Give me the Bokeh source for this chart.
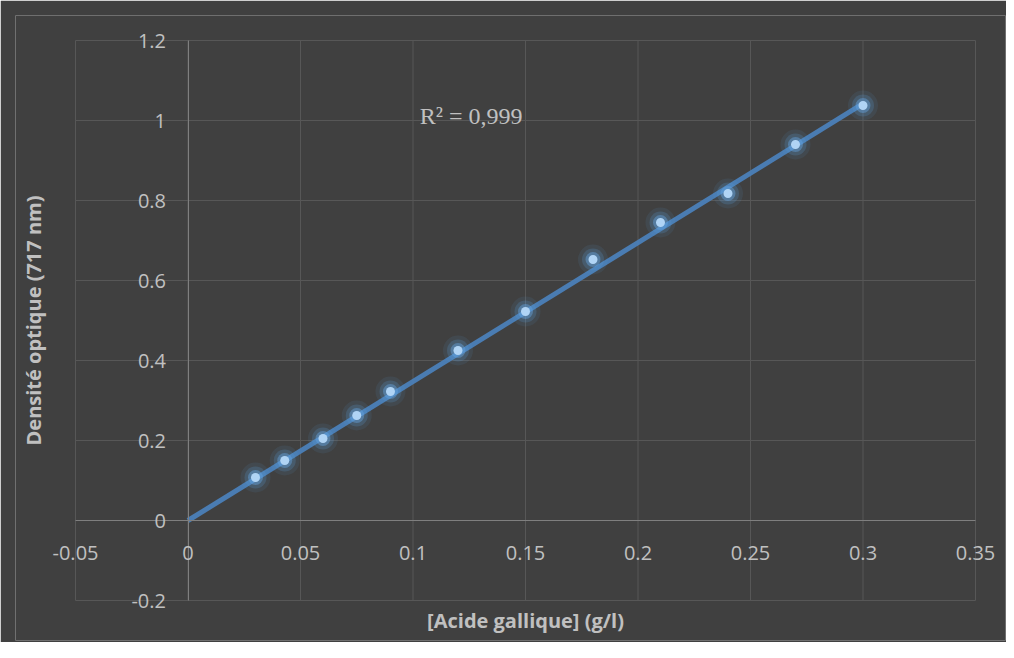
import math
from bokeh.plotting import figure
from bokeh.models import Range1d, FixedTicker, Label, LabelSet, ColumnDataSource
from bokeh.core.properties import value
from bokeh.embed import file_html
from bokeh.resources import INLINE

# ---- data ----
conc = [0.03, 0.043, 0.06, 0.075, 0.09, 0.12, 0.15, 0.18, 0.21, 0.24, 0.27, 0.30]
od = [0.1075, 0.15, 0.205, 0.2625, 0.3225, 0.425, 0.5225, 0.6525, 0.745, 0.8175, 0.94, 1.0375]
trend_x = [0.0, 0.30]
trend_y = [0.0, 1.042]
x_ticks = [-0.05, 0, 0.05, 0.1, 0.15, 0.2, 0.25, 0.3, 0.35]
x_tick_labels = ["-0.05", "0", "0.05", "0.1", "0.15", "0.2", "0.25", "0.3", "0.35"]
y_ticks = [-0.2, 0, 0.2, 0.4, 0.6, 0.8, 1.0, 1.2]
y_tick_labels = ["-0.2", "0", "0.2", "0.4", "0.6", "0.8", "1", "1.2"]
r2_text = "R² = 0,999"
x_title = "[Acide gallique] (g/l)"
y_title = "Densité optique (717 nm)"

BG = "#404040"
GRID = "#575757"
AXIS = "#7f7f7f"
TXT = "#c0c0c0"
FONT = "Open Sans"

# frame is larger than the gridded area so that the end labels and titles fit
xmin, xmax = x_ticks[0], x_ticks[-1]
ymin, ymax = y_ticks[0], y_ticks[-1]
px_per_x = 900 / (xmax - xmin)
px_per_y = 560 / (ymax - ymin)
x_range = Range1d(xmin - 60 / px_per_x, xmax + 30 / px_per_x)
y_range = Range1d(ymin - 40 / px_per_y, ymax + 25 / px_per_y)

p = figure(width=1006, height=642, title=None,
           x_range=x_range, y_range=y_range,
           output_backend="svg", toolbar_location=None,
           min_border_left=15, min_border_right=1,
           min_border_top=15, min_border_bottom=2,
           background_fill_color=BG, border_fill_color=BG,
           outline_line_color=None)
p.grid.visible = False

# gridlines restricted to the plotted area
nx, ny = len(x_ticks), len(y_ticks)
p.segment(x0=x_ticks, y0=[ymin] * nx, x1=x_ticks, y1=[ymax] * nx,
          line_color=GRID, line_width=1)
p.segment(x0=[xmin] * ny, y0=y_ticks, x1=[xmax] * ny, y1=y_ticks,
          line_color=GRID, line_width=1)

p.xaxis.ticker = FixedTicker(ticks=x_ticks)
p.yaxis.ticker = FixedTicker(ticks=y_ticks)
p.xaxis.bounds = (xmin, xmax)
p.yaxis.bounds = (ymin, ymax)
for ax in (p.xaxis[0], p.yaxis[0]):
    ax.fixed_location = 0
    ax.axis_line_color = AXIS
    ax.axis_line_width = 1
    ax.major_tick_line_color = None
    ax.minor_tick_line_color = None
    ax.major_tick_out = 0
    ax.major_tick_in = 0
    ax.major_label_text_font_size = "0px"
    ax.major_label_text_alpha = 0

# tick labels next to the axes that cross at zero
xs = ColumnDataSource(dict(x=x_ticks, y=[0] * nx, t=x_tick_labels))
ys = ColumnDataSource(dict(x=[0] * ny, y=y_ticks, t=y_tick_labels))
p.add_layout(LabelSet(x="x", y="y", text="t", source=xs, y_offset=-32,
                      text_align="center", text_baseline="middle",
                      text_font=value(FONT), text_font_size=value("20px"),
                      text_color=TXT))
p.add_layout(LabelSet(x="x", y="y", text="t", source=ys, x_offset=-22,
                      text_align="right", text_baseline="middle",
                      text_font=value(FONT), text_font_size=value("20px"),
                      text_color=TXT))

# trend line
p.line(trend_x, trend_y, line_color="#4b7fb8", line_width=5, line_alpha=0.95)

# marker glow + markers
p.scatter(conc, od, size=30, fill_color="#5b9bd5", fill_alpha=0.10, line_color=None)
p.scatter(conc, od, size=22, fill_color="#5b9bd5", fill_alpha=0.22, line_color=None)
p.scatter(conc, od, size=15, fill_color="#67a5e0", fill_alpha=0.45, line_color=None)
p.scatter(conc, od, size=9, fill_color="#b0d4f5", line_color=None)

p.add_layout(Label(x=0.103, y=1.0125, text=r2_text, text_font="Liberation Serif",
                   text_font_size="24px", text_color=TXT, text_baseline="middle"))

# axis titles
p.add_layout(Label(x=(xmin + xmax) / 2, y=ymin - 20 / px_per_y, text=x_title,
                   text_align="center", text_baseline="middle",
                   text_font=FONT, text_font_size="20px", text_font_style="bold",
                   text_color=TXT))
p.add_layout(Label(x=xmin - 42 / px_per_x, y=(ymin + ymax) / 2, text=y_title,
                   angle=math.pi / 2, text_align="center", text_baseline="middle",
                   text_font=FONT, text_font_size="20px", text_font_style="bold",
                   text_color=TXT))

open("out.html", "w").write(file_html(p, INLINE))
